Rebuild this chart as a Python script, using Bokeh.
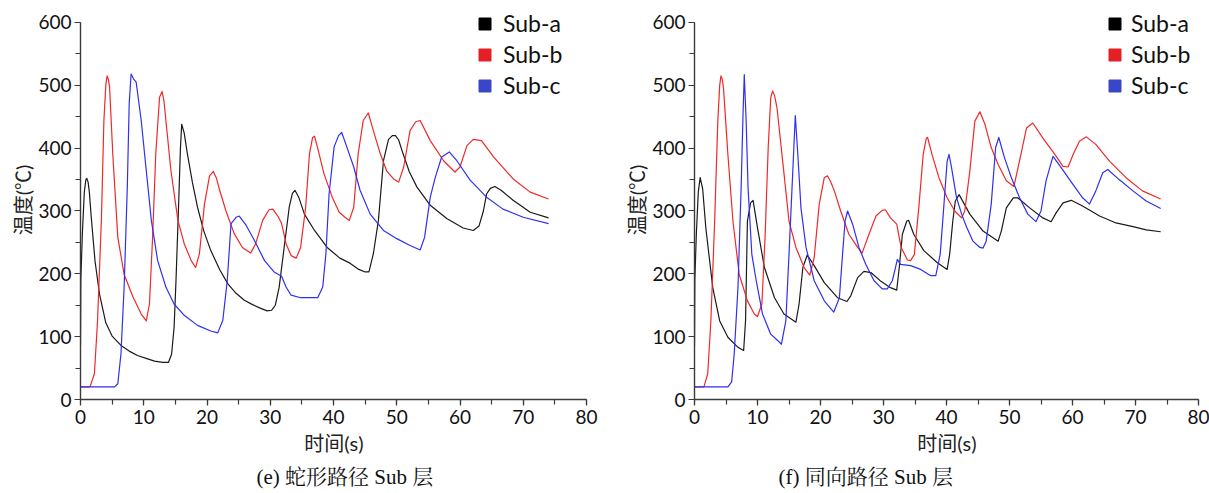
from bokeh.plotting import figure
from bokeh.layouts import row
from bokeh.models import Range1d, SingleIntervalTicker, Legend, LegendItem, Title
from bokeh.embed import file_html
from bokeh.resources import INLINE

# ---------------- data: panel (e) serpentine path ----------------
e_a_t = [0, 0.05, 0.3, 0.6, 0.85, 1.0, 1.2, 1.4, 1.7, 2.3, 3.0, 4.0, 5.0, 6.4, 7.7, 9.0, 10.5, 11.7, 13.0, 13.9, 14.4, 14.8,
         15.1, 15.5, 15.8, 16.0, 16.4, 16.9, 17.7, 18.5, 19.5, 20.6, 22.0, 23.3, 24.6, 25.9, 27.2, 28.5, 29.5, 30.2,
         30.8, 31.4, 32.2, 33.0, 33.5, 33.9, 34.5, 35.4, 37.0, 39.0, 41.0, 42.6, 44.0, 45.0, 45.6, 46.3, 47.1, 47.9,
         48.7, 49.3, 49.8, 50.3, 51.0, 52.0, 53.2, 55.3, 57.9, 60.5, 62.1, 63.0, 63.7, 64.2, 64.8, 65.5, 66.5, 68.4, 71.1, 74.0]
e_a_v = [85, 190, 265, 330, 350, 352, 346, 330, 290, 220, 168, 122, 101, 86, 77, 70, 65, 61, 59, 59, 72, 115,
         190, 306, 400, 438, 424, 391, 345, 306, 268, 237, 207, 184, 169, 158, 151, 145, 141, 142,
         150, 178, 242, 306, 328, 333, 322, 295, 269, 242, 225, 217, 207, 203, 203, 232, 285, 380,
         414, 420, 420, 413, 391, 362, 338, 309, 288, 273, 269, 276, 300, 327, 336, 339, 333, 317, 298, 289]

e_b_t = [0, 1.5, 2.2, 2.7, 3.3, 3.7, 4.0, 4.2, 4.4, 4.6, 5.1, 5.9, 6.9, 8.3, 9.6, 10.4, 10.9, 11.4, 11.9, 12.5, 12.9,
         13.2, 13.5, 14.3, 15.4, 16.4, 17.5, 18.2, 18.8, 19.6, 20.4, 21.0, 21.5, 22.0, 23.0, 24.3, 25.6, 26.9, 27.7,
         28.8, 29.8, 30.4, 31.2, 31.8, 32.5, 33.3, 34.1, 34.8, 35.6, 36.2, 36.7, 37.0, 37.5, 38.5, 39.8, 40.9, 41.8,
         42.5, 43.2, 43.9, 44.7, 45.5, 46.3, 47.4, 48.4, 49.5, 50.3, 51.1, 52.1, 53.0, 53.7, 55.3, 57.4, 59.2, 60.0,
         61.1, 62.1, 63.4, 65.3, 68.4, 71.1, 74.0]
e_b_v = [20, 20, 41, 126, 285, 444, 500, 515, 510, 497, 391, 258, 199, 163, 136, 125, 152, 258, 391, 481, 490,
         475, 444, 364, 285, 248, 221, 210, 232, 311, 356, 363, 352, 333, 300, 264, 242, 233, 248,
         285, 302, 303, 292, 280, 248, 229, 225, 242, 306, 391, 417, 419, 400, 359, 322, 298, 290,
         285, 306, 391, 444, 456, 428, 391, 364, 351, 346, 370, 428, 442, 444, 412, 380, 362, 370,
         404, 414, 412, 386, 351, 330, 319]

e_c_t = [0, 5.4, 5.9, 6.4, 6.9, 7.4, 7.7, 8.0, 8.4, 8.8, 9.6, 10.4, 11.2, 12.2, 13.5, 14.8, 16.4, 18.5, 20.6, 21.7,
         22.5, 23.2, 23.8, 24.6, 25.1, 26.2, 27.5, 29.1, 30.6, 31.8, 32.5, 33.3, 34.8, 37.5, 38.3, 38.8, 39.3, 40.1,
         40.8, 41.3, 42.1, 43.2, 44.2, 45.8, 47.9, 50.0, 52.1, 53.7, 54.4, 55.3, 56.1, 57.1, 58.3, 59.5, 61.6, 64.2,
         66.8, 70.0, 74.0]
e_c_v = [20, 20, 25, 73, 179, 338, 471, 518, 510, 505, 444, 364, 285, 221, 179, 152, 134, 118, 109, 106,
         126, 189, 280, 290, 292, 277, 253, 221, 203, 196, 179, 166, 162, 162, 179, 232, 327, 402,
         420, 425, 402, 370, 333, 295, 269, 256, 245, 238, 258, 322, 354, 386, 394, 380, 349, 322,
         303, 290, 280]

# ---------------- data: panel (f) same-direction path ----------------
f_a_t = [0, 0.05, 0.3, 0.6, 0.9, 1.3, 1.8, 2.9, 4.0, 5.3, 6.9, 7.8, 8.1, 8.4, 8.9, 9.3, 10.0, 11.1, 12.7, 14.2,
         16.1, 16.6, 17.2, 17.9, 19.0, 20.6, 22.7, 24.2, 24.8, 25.9, 26.9, 28.0, 29.6, 31.1, 32.1, 32.5, 33.0, 33.7,
         34.0, 34.8, 36.4, 38.5, 40.1, 40.5, 41.0, 41.4, 42.0, 43.7, 45.8, 48.2, 48.7, 49.5, 50.6, 51.3, 53.2, 55.3,
         56.6, 57.4, 58.5, 59.8, 61.6, 64.3, 66.9, 69.6, 71.7, 74.0]
f_a_v = [85, 190, 265, 330, 353, 335, 273, 178, 125, 99, 83, 78, 125, 284, 313, 317, 273, 210, 162, 136,
         123, 152, 210, 230, 213, 186, 162, 156, 165, 194, 204, 202, 188, 178, 174, 210, 263, 284,
         285, 263, 237, 218, 207, 231, 284, 316, 326, 295, 268, 252, 268, 305, 321, 321, 305, 289,
         283, 297, 313, 317, 308, 292, 281, 275, 270, 267]

f_b_t = [0, 1.5, 2.1, 2.6, 3.2, 3.7, 4.0, 4.2, 4.4, 4.6, 5.3, 6.1, 7.1, 8.4, 9.5, 10.0, 10.7, 11.2, 11.7, 12.1, 12.4,
         12.7, 13.1, 14.0, 15.0, 16.1, 17.4, 18.3, 19.0, 19.8, 20.6, 21.1, 21.6, 22.2, 23.2, 24.5, 25.9, 26.6, 27.7,
         28.8, 29.8, 30.3, 31.1, 32.1, 32.8, 33.8, 34.3, 34.9, 35.6, 36.3, 36.8, 37.0, 37.7, 38.8, 40.1, 41.3, 42.4,
         42.9, 43.7, 44.5, 45.3, 46.1, 47.1, 48.2, 49.5, 50.7, 51.6, 52.7, 53.7, 55.3, 57.2, 58.5, 59.3, 60.1, 61.1,
         62.2, 63.7, 65.9, 68.5, 71.1, 74.0]
f_b_v = [20, 20, 41, 125, 284, 443, 500, 515, 510, 496, 390, 284, 199, 157, 136, 132, 152, 258, 401, 480, 491,
         484, 464, 379, 284, 242, 210, 198, 226, 311, 353, 356, 347, 332, 300, 263, 242, 233, 263,
         292, 301, 302, 289, 279, 242, 222, 221, 231, 305, 390, 416, 417, 390, 353, 321, 300, 289,
         300, 363, 443, 458, 438, 401, 374, 348, 339, 380, 432, 440, 416, 390, 371, 370, 390, 411,
         418, 406, 379, 353, 332, 319]

f_c_t = [0, 5.3, 5.9, 6.3, 6.9, 7.4, 7.7, 7.9, 8.2, 8.5, 9.1, 9.8, 10.8, 12.1, 13.2, 13.8, 14.5, 15.0, 15.6, 16.0,
         16.4, 16.9, 17.7, 19.0, 20.6, 22.1, 23.0, 23.5, 23.9, 24.3, 25.1, 26.1, 27.2, 28.5, 29.8, 30.6, 31.4, 31.9,
         32.2, 32.7, 34.3, 35.9, 37.5, 38.3, 39.0, 39.6, 40.1, 40.4, 40.8, 41.6, 42.4, 43.2, 44.2, 45.3, 45.8, 46.3,
         47.1, 47.8, 48.3, 49.2, 50.3, 51.6, 52.9, 54.2, 55.0, 55.8, 56.9, 58.2, 60.1, 61.6, 62.7, 63.7, 64.8, 65.6,
         67.4, 69.6, 71.7, 74.0]
f_c_v = [20, 20, 28, 72, 178, 337, 453, 517, 443, 337, 231, 189, 136, 104, 94, 88, 125, 231, 363, 452,
         390, 305, 242, 189, 157, 139, 162, 231, 284, 300, 279, 242, 215, 189, 176, 176, 189, 210,
         223, 215, 213, 207, 197, 197, 231, 311, 379, 390, 369, 321, 295, 274, 252, 242, 241, 252,
         311, 401, 417, 385, 353, 321, 295, 283, 300, 348, 387, 369, 342, 321, 311, 332, 361, 366,
         350, 332, 316, 304]

series_names = ["Sub-a", "Sub-b", "Sub-c"]
line_colors = ["#1a1a1a", "#f02828", "#2f2ff0"]
swatch_colors = ["#000000", "#e41f26", "#3a46c8"]
x_label = "时间(s)"
y_label = "温度(℃)"

TICK_FONT = "Lato"
LABEL_FONT = "Lato, 'Noto Sans CJK SC'"
CAP_FONT = "'Liberation Serif', 'Noto Serif CJK SC', 'Noto Sans CJK SC'"
NAN = float("nan")
Y_AXIS_MAX = 600
Y_VIEW_MAX = 635   # headroom above the axis so the legend sits above the 600 tick


def make_panel(width, border_left, border_right, series, caption, cap_offset, legend_x, legend_standoff):
    p = figure(width=width, height=493, output_backend="svg", toolbar_location=None,
               x_range=Range1d(0, 80), y_range=Range1d(0, Y_VIEW_MAX),
               min_border_left=border_left, min_border_right=border_right,
               min_border_top=0, min_border_bottom=94)
    p.outline_line_color = None
    p.grid.visible = False
    p.background_fill_color = "white"
    p.border_fill_color = "white"

    p.xaxis.ticker = SingleIntervalTicker(interval=10, num_minor_ticks=2)
    p.yaxis.ticker = SingleIntervalTicker(interval=100, num_minor_ticks=2)
    p.yaxis.bounds = (0, Y_AXIS_MAX)
    for ax in (p.xaxis, p.yaxis):
        ax.axis_line_color = "#3a3a3a"
        ax.axis_line_width = 1.4
        ax.major_tick_line_color = "#3a3a3a"
        ax.minor_tick_line_color = "#3a3a3a"
        ax.major_tick_line_width = 1.2
        ax.minor_tick_line_width = 1.2
        ax.major_tick_in = 0
        ax.major_tick_out = 6
        ax.minor_tick_in = 0
        ax.minor_tick_out = 5
        ax.major_label_text_font = TICK_FONT
        ax.major_label_text_font_size = "19px"
        ax.major_label_text_color = "#111111"
        ax.axis_label_text_font = LABEL_FONT
        ax.axis_label_text_font_size = "20px"
        ax.axis_label_text_font_style = "normal"
        ax.axis_label_text_color = "#222222"
    p.xaxis.major_label_standoff = 4
    p.yaxis.major_label_standoff = 3
    p.xaxis.axis_label = x_label
    p.yaxis.axis_label = y_label
    p.xaxis.axis_label_standoff = 4
    p.yaxis.axis_label_standoff = 0

    for (t, v), color in zip(series, line_colors):
        p.line(t, v, line_color=color, line_width=1.2, line_join="round")

    # legend swatches: renderers that draw nothing in the plot area
    swatches = []
    for c in swatch_colors:
        swatches.append(p.quad(left=[NAN], right=[NAN], bottom=[NAN], top=[NAN],
                               fill_color=c, line_color=c))
    legend = Legend(items=[LegendItem(label=n, renderers=[r]) for n, r in zip(series_names, swatches)],
                    location=(legend_x, 300), padding=0, margin=0, spacing=3,
                    border_line_color=None, background_fill_alpha=0,
                    glyph_width=15, glyph_height=15, label_height=28,
                    label_text_font=TICK_FONT, label_text_font_size="23px",
                    label_standoff=legend_standoff, label_text_color="#111111")
    p.add_layout(legend)

    cap = Title(text=caption, align="left", offset=cap_offset, text_font=CAP_FONT,
                text_font_size="21px", text_font_style="normal", text_color="#111111", standoff=10)
    p.add_layout(cap, "below")
    return p


p1 = make_panel(600, 80, 14, [(e_a_t, e_a_v), (e_b_t, e_b_v), (e_c_t, e_c_v)],
                "(e)  蛇形路径 Sub 层", 176, 397, 11)
p2 = make_panel(609, 94, 11, [(f_a_t, f_a_v), (f_b_t, f_b_v), (f_c_t, f_c_v)],
                "(f)  同向路径 Sub 层", 84, 413, 9)

layout = row(p1, p2)
open("out.html", "w").write(file_html(layout, INLINE))
